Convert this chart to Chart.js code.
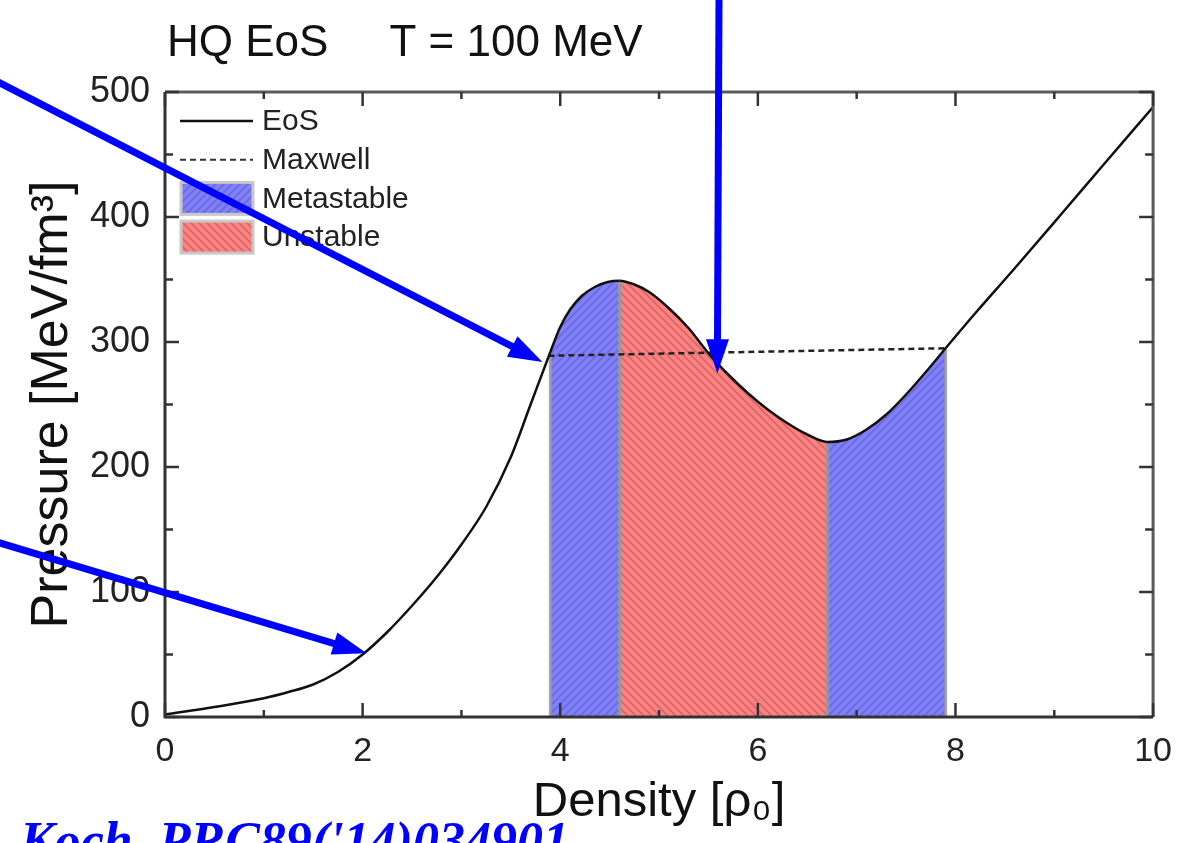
<!DOCTYPE html>
<html>
<head>
<meta charset="utf-8">
<script src="https://cdn.jsdelivr.net/npm/chart.js@4.4.1/dist/chart.umd.min.js"></script>
<style>
  html, body { margin: 0; padding: 0; background: #fff; }
  #wrap { width: 1186px; height: 843px; position: relative; }
</style>
</head>
<body>
<div id="wrap"><canvas id="eosChart" width="1186" height="843"></canvas></div>
<script>
// HQ equation of state at T = 100 MeV: pressure vs density
const density  = [0, 0.5, 1.0, 1.25, 1.5, 1.75, 2.0, 2.25, 2.5, 2.75, 3.0, 3.25, 3.5, 3.7, 3.9,
                  4.0, 4.1, 4.22, 4.35, 4.48, 4.6, 4.75, 4.9, 5.1, 5.3, 5.5, 5.7, 5.9, 6.1, 6.3,
                  6.5, 6.7, 6.9, 7.1, 7.3, 7.5, 7.7, 7.9, 8.2, 8.6, 9.1, 9.5, 10];
const pressure = [2, 8, 15, 20, 26, 36, 50, 68, 89, 112, 138, 168, 208, 250, 292,
                  312, 326, 337, 344, 348, 349, 346, 340, 327, 311, 291, 274, 259, 246, 235,
                  226, 220, 222, 230, 242, 258, 276, 295, 323, 359, 405, 442, 488];

// Maxwell construction (end points)
const maxwellDensity  = [3.88, 7.9];
const maxwellPressure = [289, 295];

// density ranges of the shaded regions
const metastableRanges = [[3.9, 4.6], [6.7, 7.9]];
const unstableRanges   = [[4.6, 6.7]];

const xTicks      = [0, 2, 4, 6, 8, 10];
const xMinorTicks = [1, 3, 5, 7, 9];
const yTicks      = [0, 100, 200, 300, 400, 500];
const yMinorTicks = [50, 150, 250, 350, 450];

const titleText = 'HQ EoS     T = 100 MeV';
const xTitle    = 'Density [ρ₀]';
const yTitle    = 'Pressure [MeV/fm³]';
const citation  = "Koch, PRC89('14)034901";

// pointer arrows: tip on the curve (data units), tail at the page edge (px)
const arrowTipX  = [3.82, 5.59, 2.04];
const arrowTipY  = [284, 275, 51];
const arrowTails = [[0, 83], [719, 0], [0, 543]];

Chart.defaults.font.family = '"Liberation Sans", Arial, sans-serif';
Chart.defaults.color = '#222';

function hatch(base, line, forward) {
    const s = 8;
    const c = document.createElement('canvas');
    c.width = s; c.height = s;
    const g = c.getContext('2d');
    g.fillStyle = base;
    g.fillRect(0, 0, s, s);
    g.strokeStyle = line;
    g.lineWidth = 1.6;
    g.beginPath();
    if (forward) {
        g.moveTo(0, s); g.lineTo(s, 0);
        g.moveTo(-1, 1); g.lineTo(1, -1);
        g.moveTo(s - 1, s + 1); g.lineTo(s + 1, s - 1);
    } else {
        g.moveTo(0, 0); g.lineTo(s, s);
        g.moveTo(-1, s - 1); g.lineTo(1, s + 1);
        g.moveTo(s - 1, -1); g.lineTo(s + 1, 1);
    }
    g.stroke();
    return g.createPattern(c, 'repeat');
}

const bluePattern = hatch('#8080ff', '#6a6ad2', true);
const redPattern  = hatch('#ff8080', '#d06a6a', false);

const regions = [
    ...metastableRanges.map(r => ({ range: r, fill: bluePattern })),
    ...unstableRanges.map(r => ({ range: r, fill: redPattern }))
];

const legendItems = [
    { label: 'EoS', color: '#111', width: 2.5, dash: [] },
    { label: 'Maxwell', color: '#333', width: 2, dash: [6, 4] },
    { label: 'Metastable', fill: bluePattern },
    { label: 'Unstable', fill: redPattern }
];

// shade the area under the curve piecewise, one pattern per region
function regionFill(ctx) {
    const a = ctx.p0.parsed.x, b = ctx.p1.parsed.x;
    const r = regions.find(g => a >= g.range[0] && b <= g.range[1]);
    return r ? r.fill : 'rgba(0,0,0,0)';
}

const datasets = [
    {
        label: 'EoS',
        data: density.map((x, i) => ({ x, y: pressure[i] })),
        showLine: true,
        borderColor: '#111',
        borderWidth: 2.5,
        pointRadius: 0,
        cubicInterpolationMode: 'monotone',
        fill: 'origin',
        backgroundColor: 'rgba(0,0,0,0)',
        segment: { backgroundColor: regionFill },
        order: 0
    },
    {
        label: 'Maxwell',
        data: maxwellDensity.map((x, i) => ({ x, y: maxwellPressure[i] })),
        showLine: true,
        borderColor: '#222',
        borderWidth: 2.5,
        borderDash: [6, 4],
        pointRadius: 0,
        fill: false,
        order: 1
    }
];

// region edges, box frame with inward ticks, in-plot legend
const framePlugin = {
    id: 'frame',
    beforeDatasetsDraw(chart) {
        const { ctx, scales: { x, y } } = chart;
        ctx.save();
        ctx.strokeStyle = 'rgba(150,150,160,0.85)';
        ctx.lineWidth = 3;
        regions.forEach(g => g.range.forEach(d => {
            const i = density.indexOf(d);
            const px = x.getPixelForValue(d);
            ctx.beginPath();
            ctx.moveTo(px, y.getPixelForValue(0));
            ctx.lineTo(px, y.getPixelForValue(pressure[i]));
            ctx.stroke();
        }));
        ctx.restore();
    },
    afterDatasetsDraw(chart) {
        const { ctx, chartArea: a, scales: { x, y } } = chart;
        ctx.save();

        // frame
        ctx.lineWidth = 3;
        ctx.strokeStyle = '#5a5a5a';
        ctx.beginPath();
        ctx.moveTo(a.left, a.top); ctx.lineTo(a.right, a.top); ctx.lineTo(a.right, a.bottom);
        ctx.stroke();
        ctx.strokeStyle = '#333';
        ctx.beginPath();
        ctx.moveTo(a.left, a.top); ctx.lineTo(a.left, a.bottom); ctx.lineTo(a.right, a.bottom);
        ctx.stroke();

        // inward ticks on all four sides
        ctx.lineWidth = 2.5;
        const xt = (vals, len) => vals.forEach(v => {
            const px = x.getPixelForValue(v);
            ctx.beginPath(); ctx.moveTo(px, a.bottom); ctx.lineTo(px, a.bottom - len); ctx.stroke();
            ctx.beginPath(); ctx.moveTo(px, a.top); ctx.lineTo(px, a.top + len); ctx.stroke();
        });
        const yt = (vals, len) => vals.forEach(v => {
            const py = y.getPixelForValue(v);
            ctx.beginPath(); ctx.moveTo(a.left, py); ctx.lineTo(a.left + len, py); ctx.stroke();
            ctx.beginPath(); ctx.moveTo(a.right, py); ctx.lineTo(a.right - len, py); ctx.stroke();
        });
        ctx.strokeStyle = '#333';
        xt(xTicks, 14); xt(xMinorTicks, 7);
        yt(yTicks, 14); yt(yMinorTicks, 8);

        // legend
        const left = a.left + 16, sampleW = 72, textX = a.left + 97;
        ctx.font = '30px "Liberation Sans", Arial, sans-serif';
        ctx.textBaseline = 'middle';
        ctx.textAlign = 'left';
        legendItems.forEach((it, i) => {
            const cy = a.top + 29 + i * 38.7;
            if (it.fill) {
                ctx.fillStyle = it.fill;
                ctx.fillRect(left, cy - 16, sampleW, 32);
                ctx.strokeStyle = '#c8c8c8';
                ctx.lineWidth = 3;
                ctx.setLineDash([]);
                ctx.strokeRect(left, cy - 16, sampleW, 32);
            } else {
                ctx.strokeStyle = it.color;
                ctx.lineWidth = it.width;
                ctx.setLineDash(it.dash);
                ctx.beginPath();
                ctx.moveTo(left - 1, cy); ctx.lineTo(left + sampleW, cy);
                ctx.stroke();
                ctx.setLineDash([]);
            }
            ctx.fillStyle = '#222';
            ctx.fillText(it.label, textX, cy + 1);
        });
        ctx.restore();
    },
    afterDraw(chart) {
        const { ctx, chartArea: a, scales: { x, y } } = chart;
        ctx.save();
        ctx.fillStyle = '#111';
        ctx.font = '44px "Liberation Sans", Arial, sans-serif';
        ctx.textBaseline = 'alphabetic';
        ctx.textAlign = 'left';
        ctx.fillText(titleText, a.left + 2, 56);

        // blue pointer arrows
        ctx.strokeStyle = '#0000ff';
        ctx.fillStyle = '#0000ff';
        arrowTipX.forEach((tx, i) => {
            const x1 = x.getPixelForValue(tx), y1 = y.getPixelForValue(arrowTipY[i]);
            let [x0, y0] = arrowTails[i];
            const ang = Math.atan2(y1 - y0, x1 - x0);
            x0 -= 12 * Math.cos(ang); y0 -= 12 * Math.sin(ang);
            const headLen = 34, half = 11.5;
            const bx = x1 - headLen * Math.cos(ang), by = y1 - headLen * Math.sin(ang);
            ctx.lineWidth = 7;
            ctx.beginPath();
            ctx.moveTo(x0, y0); ctx.lineTo(bx + 2 * Math.cos(ang), by + 2 * Math.sin(ang));
            ctx.stroke();
            ctx.beginPath();
            ctx.moveTo(x1, y1);
            ctx.lineTo(bx + half * Math.sin(ang), by - half * Math.cos(ang));
            ctx.lineTo(bx - half * Math.sin(ang), by + half * Math.cos(ang));
            ctx.closePath();
            ctx.fill();
        });

        ctx.font = 'italic bold 52px "Liberation Serif", "Times New Roman", serif';
        ctx.fillText(citation, 20, 858);
        ctx.restore();
    }
};

new Chart(document.getElementById('eosChart'), {
    type: 'scatter',
    data: { datasets },
    options: {
        responsive: false,
        animation: false,
        devicePixelRatio: 1,
        events: [],
        layout: { padding: { top: 92, right: 29, left: 0, bottom: 0 } },
        plugins: {
            legend: { display: false },
            tooltip: { enabled: false },
            title: { display: false },
            filler: { drawTime: 'beforeDatasetsDraw' }
        },
        scales: {
            x: {
                type: 'linear',
                min: 0,
                max: 10,
                afterBuildTicks: s => { s.ticks = xTicks.map(v => ({ value: v })); },
                afterFit: s => { s.height = 126; },
                grid: { display: false, drawTicks: false },
                border: { display: false },
                ticks: { font: { size: 34 }, color: '#222', padding: 14 },
                title: { display: true, text: xTitle, color: '#111', font: { size: 49 }, padding: { top: 0, bottom: 11 } }
            },
            y: {
                type: 'linear',
                min: 0,
                max: 500,
                afterBuildTicks: s => { s.ticks = yTicks.map(v => ({ value: v })); },
                afterFit: s => { s.width = 165; },
                grid: { display: false, drawTicks: false },
                border: { display: false },
                ticks: { font: { size: 36 }, color: '#222', padding: 15 },
                title: { display: true, text: yTitle, color: '#111', font: { size: 52 }, padding: { top: 21, bottom: 0 } }
            }
        }
    },
    plugins: [framePlugin]
});
</script>
</body>
</html>
